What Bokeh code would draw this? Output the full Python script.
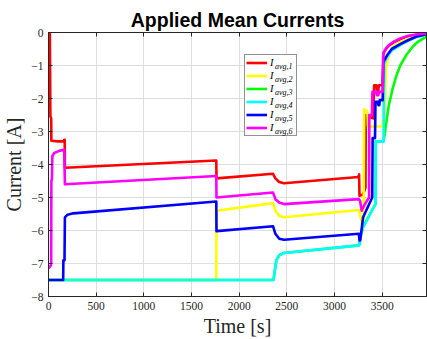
from bokeh.plotting import figure
from bokeh.models import Range1d, FixedTicker, LinearAxis, Legend, LegendItem
from bokeh.embed import file_html
from bokeh.resources import INLINE

# ---------------- data ----------------
title_text = "Applied Mean Currents"
x_label = "Time [s]"
y_label = "Current [A]"
x_ticks = [0, 500, 1000, 1500, 2000, 2500, 3000, 3500]
y_ticks = [-8, -7, -6, -5, -4, -3, -2, -1, 0]
x_max = 3965
series_subs = ["avg,1", "avg,2", "avg,3", "avg,4", "avg,5", "avg,6"]
series_colors = ["#ff0000", "#ffff00", "#00ff00", "#00ffff", "#0000ff", "#ff00ff"]

t1 = [0, 14, 20, 28, 30, 100, 160, 165, 170, 172, 1760, 1762, 2355, 2380, 2420, 2470,
      3250, 3258, 3262, 3300, 3325, 3328, 3350, 3405, 3416, 3440, 3445, 3460, 3465, 3505, 3512,
      3540, 3570, 3620, 3690, 3760, 3860, 3966]
i1 = [0, 0, -2.55, -2.6, -3.28, -3.3, -3.3, -3.25, -3.25, -4.1, -3.88, -4.42, -4.28, -4.42, -4.53, -4.57,
      -4.38, -4.3, -4.95, -4.9, -4.7, -2.5, -2.55, -2.6, -1.6, -1.6, -1.75, -1.75, -1.6, -1.6, -0.65,
      -0.5, -0.4, -0.3, -0.2, -0.12, -0.07, -0.03]

t2 = [0, 1760, 1762, 2355, 2380, 2420, 2470, 3256, 3262, 3290, 3305, 3311, 3346, 3352, 3500,
      3515, 3530, 3540, 3570, 3620, 3690, 3760, 3860, 3966]
i2 = [-7.5, -7.5, -5.4, -5.17, -5.4, -5.55, -5.6, -5.38, -5.45, -5.8, -5.7, -2.33, -2.4, -2.85, -2.85,
      -2.6, -2.1, -1.1, -0.65, -0.42, -0.3, -0.2, -0.1, -0.05]

t3 = [0, 2360, 2375, 2390, 2420, 2470, 3256, 3262, 3270, 3300, 3400, 3430, 3433, 3515, 3530, 3552,
      3570, 3610, 3650, 3690, 3760, 3830, 3870, 3920, 3966]
i3 = [-7.5, -7.5, -7.2, -6.9, -6.75, -6.68, -6.45, -6.42, -6.2, -5.9, -5.35, -5.2, -3.3, -3.3, -3.0, -2.55,
      -2.2, -1.7, -1.3, -1.0, -0.65, -0.4, -0.29, -0.2, -0.13]

t4 = [0, 2360, 2375, 2390, 2420, 2470, 3256, 3262, 3270, 3300, 3400, 3430, 3433, 3515, 3521, 3550,
      3600, 3690, 3760, 3860, 3966]
i4 = [-7.5, -7.5, -7.2, -6.9, -6.75, -6.68, -6.45, -6.42, -6.2, -5.9, -5.35, -5.2, -3.3, -3.3, -0.95, -0.75,
      -0.55, -0.38, -0.27, -0.14, -0.06]

t5 = [0, 154, 156, 168, 172, 200, 260, 1760, 1762, 2355, 2380, 2420, 2470,
      3256, 3262, 3270, 3300, 3380, 3396, 3400, 3425, 3430, 3455, 3460, 3470, 3475, 3505, 3512,
      3550, 3600, 3690, 3760, 3860, 3966]
i5 = [-7.5, -7.5, -6.9, -6.9, -5.6, -5.52, -5.48, -5.12, -6.02, -5.87, -6.1, -6.25, -6.28,
      -6.1, -6.3, -6.3, -5.6, -5.1, -5.0, -3.2, -3.2, -2.1, -2.1, -2.2, -2.2, -2.05, -2.05, -0.9,
      -0.7, -0.5, -0.35, -0.25, -0.12, -0.05]

t6 = [0, 25, 28, 30, 36, 40, 60, 120, 165, 172, 1760, 1762, 2355, 2380, 2420, 2470,
      3256, 3268, 3285, 3300, 3340, 3363, 3365, 3392, 3398, 3440, 3445, 3460, 3465, 3505, 3512,
      3540, 3570, 3620, 3690, 3760, 3860, 3966]
i6 = [-7.15, -7.05, -7.0, -4.5, -4.45, -3.75, -3.65, -3.58, -3.55, -4.6, -4.35, -5.0, -4.85, -5.05, -5.15, -5.2,
      -5.05, -5.1, -5.4, -5.3, -5.1, -5.0, -2.5, -2.5, -1.8, -1.8, -1.9, -1.9, -1.8, -1.8, -0.62,
      -0.48, -0.38, -0.28, -0.18, -0.11, -0.06, -0.03]

times = [t1, t2, t3, t4, t5, t6]
currents = [i1, i2, i3, i4, i5, i6]

# ---------------- layout ----------------
W, H = 427, 339
BL, BR, BT, BB = 48, 1, 32, 41
AX = "#262626"
SERIF = "Liberation Serif"

p = figure(width=W, height=H, output_backend="svg", toolbar_location=None,
           x_range=Range1d(0, x_max), y_range=Range1d(-8, 0),
           min_border_left=BL, min_border_right=BR, min_border_top=BT, min_border_bottom=BB,
           title=title_text)
p.title.align = "center"
p.title.text_font = "Liberation Sans"
p.title.text_font_style = "bold"
p.title.text_font_size = "19.5px"
p.title.text_color = "#000000"
p.title.standoff = 3

p.outline_line_color = AX
p.background_fill_color = "white"
p.border_fill_color = "white"

p.xaxis.ticker = FixedTicker(ticks=x_ticks)
p.yaxis.ticker = FixedTicker(ticks=y_ticks)
for ax in (p.xaxis[0], p.yaxis[0]):
    ax.major_tick_in = 4
    ax.major_tick_out = 0
    ax.minor_tick_in = 0
    ax.minor_tick_out = 0
    ax.axis_line_color = AX
    ax.major_tick_line_color = AX
    ax.major_label_text_font = SERIF
    ax.major_label_text_font_size = "11.5px"
    ax.major_label_text_color = AX
    ax.axis_label_text_font = SERIF
    ax.axis_label_text_font_size = "20px"
    ax.axis_label_text_font_style = "normal"
    ax.axis_label_text_color = AX
p.xaxis.axis_label = x_label
p.yaxis.axis_label = y_label
p.xaxis.major_label_standoff = 5
p.yaxis.major_label_standoff = 5
p.xaxis.axis_label_standoff = 2
p.yaxis.axis_label_standoff = 3

# top / right tick marks only (as minor ticks, no labels)
for loc, tk in (("above", x_ticks), ("right", y_ticks)):
    extra = LinearAxis(ticker=FixedTicker(ticks=[], minor_ticks=tk),
                       major_tick_in=0, major_tick_out=0, minor_tick_in=4, minor_tick_out=0,
                       axis_line_color=AX, minor_tick_line_color=AX, major_label_standoff=0)
    p.add_layout(extra, loc)

p.xgrid.grid_line_color = "#dedede"
p.ygrid.grid_line_color = "#dedede"
p.xgrid.grid_line_width = 1
p.ygrid.grid_line_width = 1

renderers = []
for t, c, col in zip(times, currents, series_colors):
    r = p.line(t, c, line_color=col, line_width=2.6, line_join="round")
    renderers.append(r)

# legend: line samples + italic "I"
leg_left_px, leg_top_px, leg_h = 244, 58, 80
legend = Legend(items=[LegendItem(label="I", renderers=[r]) for r in renderers],
                location=(leg_left_px - BL, (H - BB) - (leg_top_px + leg_h)),
                orientation="vertical", padding=1, spacing=0, margin=0,
                glyph_width=21, glyph_height=13, label_height=13, label_width=25,
                label_standoff=3, label_text_font=SERIF, label_text_font_style="italic",
                label_text_font_size="10.5px", label_text_color="#000000",
                label_text_line_height=1.0,
                border_line_color=AX, border_line_width=1, background_fill_color="white",
                background_fill_alpha=1.0)
p.add_layout(legend)

# second, transparent legend carrying the subscripts "avg,k"
sub_left_px, sub_shift = 274, 3
sub_legend = Legend(items=[LegendItem(label=s, renderers=[r]) for s, r in zip(series_subs, renderers)],
                    location=(sub_left_px - BL, (H - BB) - (leg_top_px + leg_h + sub_shift)),
                    orientation="vertical", padding=1, spacing=0, margin=0,
                    glyph_width=0, glyph_height=13, label_height=13, label_width=10,
                    label_standoff=0, label_text_font=SERIF, label_text_font_style="italic",
                    label_text_font_size="8px", label_text_color="#000000",
                    label_text_line_height=1.0,
                    border_line_alpha=0, background_fill_alpha=0)
p.add_layout(sub_legend)

open("out.html", "w").write(file_html(p, INLINE))
